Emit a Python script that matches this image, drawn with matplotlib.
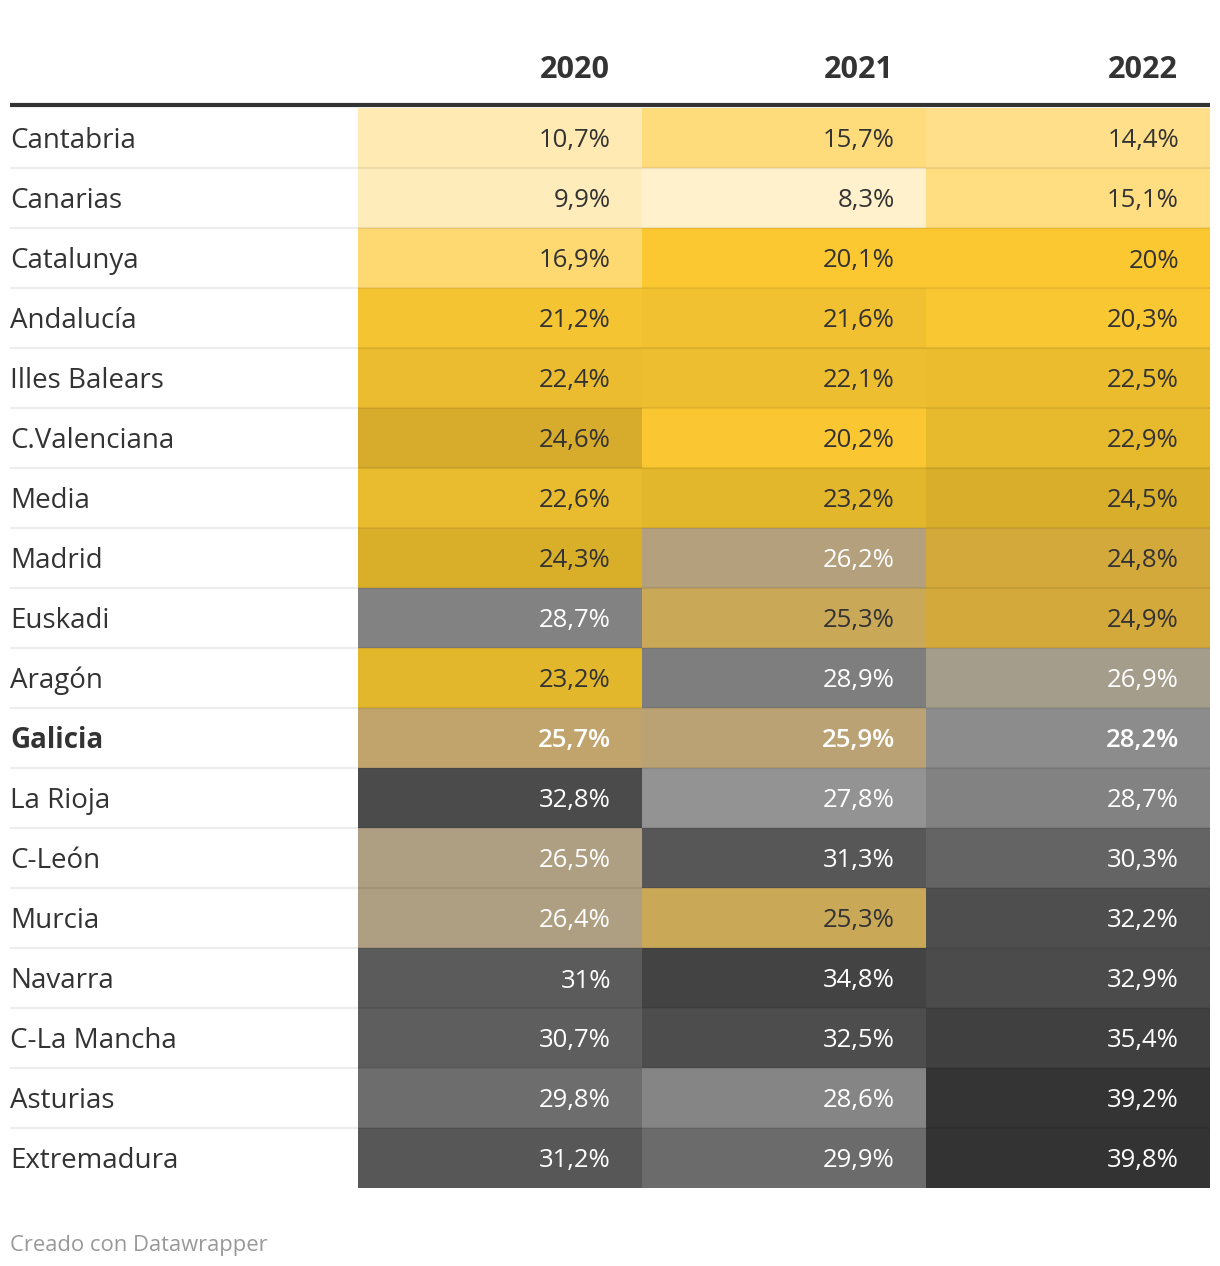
"""Heatmap table: share by region, 2020-2022 (Datawrapper-style)."""
import matplotlib.pyplot as plt
import numpy as np
from matplotlib.colors import LinearSegmentedColormap

plt.rcParams['font.family'] = ['Open Sans', 'DejaVu Sans']

regions = ["Cantabria", "Canarias", "Catalunya", "Andalucía", "Illes Balears",
           "C.Valenciana", "Media", "Madrid", "Euskadi", "Aragón", "Galicia",
           "La Rioja", "C-León", "Murcia", "Navarra", "C-La Mancha",
           "Asturias", "Extremadura"]
years = ["2020", "2021", "2022"]
v2020 = [10.7, 9.9, 16.9, 21.2, 22.4, 24.6, 22.6, 24.3, 28.7, 23.2, 25.7,
         32.8, 26.5, 26.4, 31.0, 30.7, 29.8, 31.2]
v2021 = [15.7, 8.3, 20.1, 21.6, 22.1, 20.2, 23.2, 26.2, 25.3, 28.9, 25.9,
         27.8, 31.3, 25.3, 34.8, 32.5, 28.6, 29.9]
v2022 = [14.4, 15.1, 20.0, 20.3, 22.5, 22.9, 24.5, 24.8, 24.9, 26.9, 28.2,
         28.7, 30.3, 32.2, 32.9, 35.4, 39.2, 39.8]
highlight = "Galicia"

# colour scale anchors (value, colour)
anchors = [(8.3, "#fff1cc"), (10.7, "#ffeab3"), (14.4, "#ffdf88"),
           (16.9, "#fed870"), (20.0, "#fbc832"), (21.2, "#f4c433"),
           (22.6, "#e9bb2e"), (24.3, "#dab02a"), (24.6, "#d7ac2c"),
           (24.9, "#d3a93f"), (25.3, "#caa855"), (25.7, "#c0a46b"),
           (26.2, "#b4a07c"), (26.9, "#a69e8c"), (27.8, "#939393"),
           (28.7, "#828282"), (30.3, "#646464"), (31.3, "#575757"),
           (32.2, "#4e4e4e"), (34.8, "#434343"), (35.4, "#404040"),
           (39.8, "#333333")]
vmin, vmax = anchors[0][0], anchors[-1][0]
cmap = LinearSegmentedColormap.from_list(
    "dw", [((v - vmin) / (vmax - vmin), c) for v, c in anchors])

W, H = 1220, 1266
fig = plt.figure(figsize=(W / 100, H / 100), dpi=100)
ax = fig.add_axes([0, 0, 1, 1])
ax.set_xlim(0, W); ax.set_ylim(H, 0); ax.axis("off")

x0, x1 = 10, 1210
col_left = [358, 642, 926]
col_w = 284
top, rh = 108, 60
txt_dark = "#333333"
dy = 3  # nudge text down to sit like the reference

# header
for cl, yr in zip(col_left, years):
    ax.text(cl + col_w - 32, 67 + dy, yr, ha="right", va="center",
            fontsize=22, fontweight="bold", color=txt_dark)

data = np.array([v2020, v2021, v2022]).T
for i, reg in enumerate(regions):
    y = top + i * rh
    hl = reg == highlight
    ax.text(x0, y + rh / 2 + dy, reg, ha="left", va="center", fontsize=20,
            fontweight="bold" if hl else "normal", color=txt_dark)
    for j, cl in enumerate(col_left):
        v = data[i, j]
        c = cmap((v - vmin) / (vmax - vmin))
        ax.add_patch(plt.Rectangle((cl, y), col_w, rh, facecolor=c,
                                   edgecolor="none", zorder=1))
        tc = "white" if v > 25.5 else txt_dark
        lab = f"{v:g}".replace(".", ",") + "%"
        ax.text(cl + col_w - 31, y + rh / 2 + dy, lab, ha="right",
                va="center", fontsize=18.5,
                fontweight="semibold" if hl else "normal", color=tc,
                zorder=3)
    if i > 0:
        ax.plot([x0, x1], [y, y], color="black", alpha=0.07, lw=1.6,
                solid_capstyle="butt", zorder=2)

ax.plot([x0, x1], [105, 105], color="#333333", lw=3, solid_capstyle="butt",
        zorder=4)

ax.text(x0, 1242 + dy, "Creado con Datawrapper", ha="left", va="center",
        fontsize=15.8, color="#999999")

fig.savefig("out.png", dpi=100)
